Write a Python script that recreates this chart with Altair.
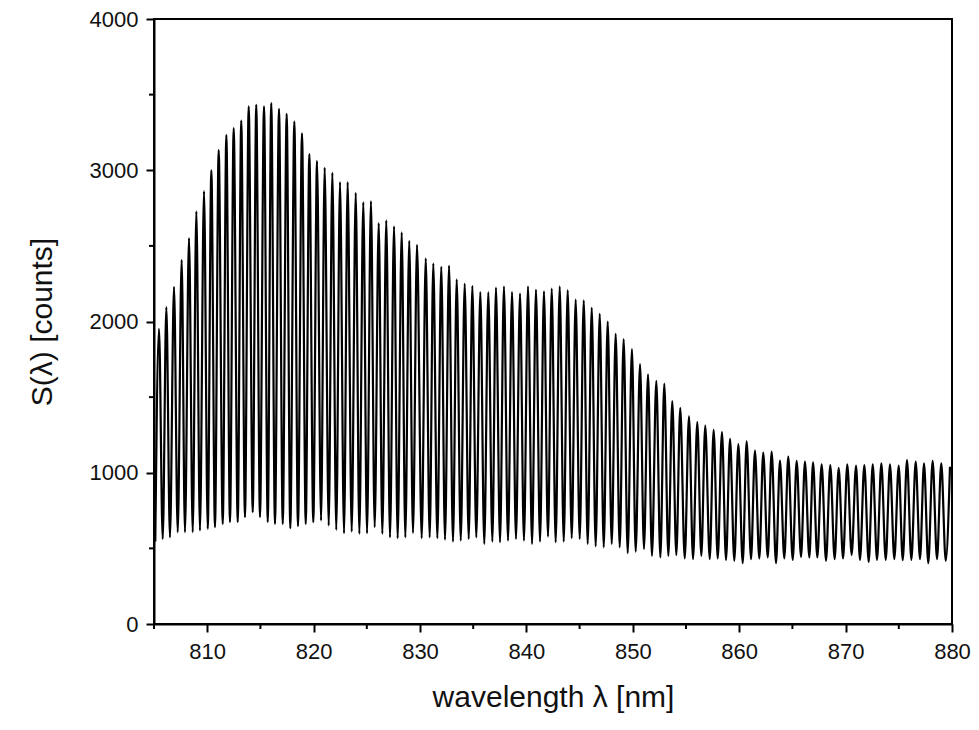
import altair as alt
import pandas as pd

# ---- data ----
peak_nm = [805.47, 806.16, 806.88, 807.60, 808.29, 808.98, 809.70, 810.39, 811.08, 811.80,
           812.49, 813.20, 813.90, 814.61, 815.34, 816.02, 816.75,
           817.47, 818.19, 818.91, 819.60, 820.32, 821.04, 821.76, 822.48, 823.20, 823.96,
           824.67, 825.39, 826.12, 826.83, 827.56, 828.28, 828.99,
           829.72,
           830.54, 831.25, 832.00, 832.73, 833.45, 834.20, 834.92, 835.67, 836.42, 837.14,
           837.89, 838.65, 839.40, 840.15, 840.90, 841.65,
           842.38, 843.13, 843.88, 844.63, 845.39, 846.14, 846.89, 847.64, 848.39, 849.14,
           849.92, 850.68, 851.43, 852.21, 852.96, 853.71, 854.46,
           855.28, 856.06, 856.81, 857.60, 858.38, 859.14, 859.92, 860.70, 861.48, 862.26,
           863.05, 863.83, 864.61, 865.40, 866.18, 866.94,
           867.75, 868.56, 869.35, 870.16, 870.98, 871.76, 872.55, 873.36, 874.17, 874.99,
           875.77, 876.59, 877.37, 878.18, 878.99, 879.81]
peak_counts = [1951, 2095, 2229, 2407, 2551, 2729, 2862, 3000, 3133, 3233,
               3278, 3329, 3422, 3433, 3422, 3444, 3406,
               3373, 3322, 3244, 3107, 3062, 3018, 2984, 2922, 2922, 2851,
               2789, 2796, 2651, 2669, 2629, 2589, 2533,
               2507,
               2418, 2384, 2362, 2369, 2278, 2251, 2235, 2195, 2195, 2224,
               2233, 2195, 2184, 2233, 2211, 2200,
               2218, 2233, 2207, 2144, 2140, 2091, 2051, 2000, 1918, 1884,
               1818, 1718, 1651, 1607, 1589, 1473, 1429,
               1373, 1335, 1311, 1284, 1269, 1224, 1189, 1207, 1147, 1133,
               1140, 1080, 1107, 1078, 1073, 1069,
               1056, 1051, 1033, 1056, 1047, 1051, 1056, 1062, 1056, 1047,
               1084, 1073, 1062, 1078, 1062, 1040]

trough_nm = [805.12,
             805.82, 806.50, 807.23, 807.91, 808.64, 809.32, 810.05, 810.73, 811.46, 812.14,
             812.87, 813.55, 814.28, 814.96, 815.69, 816.37, 817.10,
             817.81, 818.53, 819.26, 819.97, 820.70, 821.42, 822.13, 822.86, 823.58, 824.30,
             825.02, 825.74, 826.46, 827.18, 827.90, 828.62, 829.34,
             830.16, 830.91, 831.63, 832.35, 833.10, 833.83, 834.58, 835.29, 836.04, 836.80,
             837.52, 838.27, 839.02, 839.77, 840.53, 841.28, 842.03,
             842.75, 843.51, 844.26, 845.01, 845.76, 846.51, 847.27, 848.02, 848.77, 849.52,
             850.27, 851.05, 851.80, 852.59, 853.34, 854.09,
             854.88, 855.66, 856.44, 857.23, 857.98, 858.76, 859.54, 860.33, 861.11, 861.89,
             862.68, 863.46, 864.24, 865.03, 865.81, 866.59,
             867.34, 868.16, 868.97, 869.76, 870.57, 871.35, 872.17, 872.95, 873.77, 874.58,
             875.37, 876.18, 876.99, 877.77, 878.59, 879.41]
trough_counts = [545,
                 562, 573, 607, 607, 607, 618, 629, 640, 662, 673,
                 673, 707, 740, 707, 673, 662, 662,
                 633, 647, 662, 673, 684, 651, 622, 600, 611, 596,
                 600, 640, 596, 573, 567, 573, 602,
                 567, 573, 567, 558, 544, 551, 562, 573, 529, 544,
                 540, 551, 562, 551, 529, 544, 578,
                 540, 544, 567, 562, 529, 513, 507, 529, 507, 469,
                 478, 496, 451, 440, 451, 456,
                 433, 429, 451, 429, 433, 424, 418, 402, 429, 433,
                 440, 402, 433, 424, 444, 440,
                 440, 418, 429, 433, 456, 424, 411, 424, 424, 429,
                 422, 424, 429, 402, 429, 418]

x_major = [810, 820, 830, 840, 850, 860, 870, 880]
x_minor = [805, 815, 825, 835, 845, 855, 865, 875]
y_major = [0, 1000, 2000, 3000, 4000]
y_minor = [500, 1500, 2500, 3500]

# ---- tables ----
spec = pd.DataFrame({
    "nm": peak_nm + trough_nm,
    "counts": peak_counts + trough_counts,
}).sort_values("nm").reset_index(drop=True)

FONT = "Liberation Sans"
xscale = alt.Scale(domain=[805, 880], nice=False, zero=False)
yscale = alt.Scale(domain=[0, 4000], nice=False)

line = alt.Chart(spec).mark_line(
    color="black", strokeWidth=2.2, interpolate="monotone", clip=True
).encode(
    x=alt.X("nm:Q", scale=xscale,
            axis=alt.Axis(title="wavelength λ [nm]", values=x_major, format="d",
                          grid=False, tickSize=8, tickWidth=2, domainWidth=2,
                          domainColor="black", tickColor="black",
                          labelFont=FONT, labelFontSize=22, labelColor="#111",
                          labelPadding=9, labelFlush=False,
                          titleFont=FONT, titleFontSize=30, titleFontWeight="normal",
                          titleColor="#111", titlePadding=20)),
    y=alt.Y("counts:Q", scale=yscale,
            axis=alt.Axis(title="S(λ) [counts]", values=y_major, format="d",
                          grid=False, tickSize=8, tickWidth=2, domainWidth=2,
                          domainColor="black", tickColor="black",
                          labelFont=FONT, labelFontSize=22, labelColor="#111",
                          labelPadding=8, labelFlush=False,
                          titleFont=FONT, titleFontSize=30, titleFontWeight="normal",
                          titleColor="#111", titlePadding=32)),
)

xminor = alt.Chart(pd.DataFrame({"v": x_minor})).mark_rule(
    color="black", strokeWidth=2, clip=False
).encode(
    x=alt.X("v:Q", scale=xscale),
    y=alt.value(605),
    y2=alt.value(610),
)

yminor = alt.Chart(pd.DataFrame({"v": y_minor})).mark_rule(
    color="black", strokeWidth=2, clip=False
).encode(
    y=alt.Y("v:Q", scale=yscale),
    x=alt.value(-5),
    x2=alt.value(0),
)

chart = alt.layer(line, xminor, yminor).properties(
    width=798,
    height=605,
    autosize="none",
    padding={"left": 146, "top": 11, "right": 19, "bottom": 97},
    background="white",
).configure_view(
    stroke="black", strokeWidth=2
)

chart.save("out.html", embed_options={"renderer": "svg", "actions": False})
